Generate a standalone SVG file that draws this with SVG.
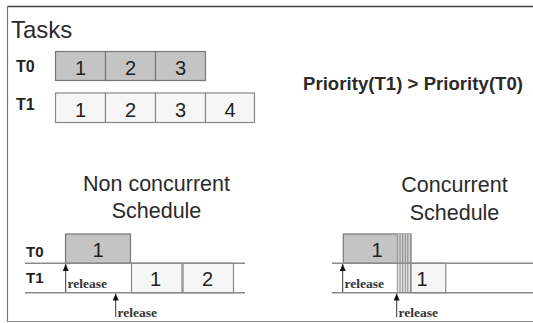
<svg xmlns="http://www.w3.org/2000/svg" width="533" height="323" viewBox="0 0 533 323">
<defs>
<style>
.sans{font-family:"Liberation Sans",Arial,sans-serif;fill:#2a2a2a}
.lbl{font-family:"Liberation Sans",Arial,sans-serif;font-weight:bold;font-size:16px;fill:#222}
.lbl2{font-family:"Liberation Sans",Arial,sans-serif;font-weight:bold;font-size:15px;fill:#222}
.num{font-family:"Liberation Sans",Arial,sans-serif;font-size:20px;fill:#222;text-anchor:middle}
.rel{font-family:"Liberation Serif","Times New Roman",serif;font-weight:bold;font-size:13.5px;fill:#333}
.gray{fill:#c4c4c4;stroke:#777;stroke-width:1.2}
.light{fill:#f6f6f6;stroke:#888;stroke-width:1.2}
.axis{stroke:#8a8a8a;stroke-width:1.5;fill:none}
.arr{stroke:#333;stroke-width:1;fill:none;marker-end:url(#ah)}
.hatch{stroke:#777;stroke-width:0.8}
</style>
<marker id="ah" viewBox="0 0 6 7" refX="3" refY="0" markerWidth="6" markerHeight="7" orient="0" markerUnits="userSpaceOnUse">
<path d="M0,7 L3,0 L6,7 Z" fill="#111"/>
</marker>
</defs>
<rect width="533" height="323" fill="#fff"/>
<g id="frame">
<line x1="7" y1="6.5" x2="533" y2="6.5" stroke="#444" stroke-width="1.5"/>
<line x1="7.5" y1="6" x2="7.5" y2="322" stroke="#777" stroke-width="1.2"/>
<line x1="7" y1="321.5" x2="533" y2="321.5" stroke="#888" stroke-width="1.2"/>
</g>
<g id="tasks-title"><text class="sans" x="11" y="38" font-size="24">Tasks</text></g>
<g id="priority"><text class="sans" x="303" y="90" font-size="18.5" font-weight="bold" textLength="220">Priority(T1) &gt; Priority(T0)</text></g>
<g id="task-T0">
<text class="lbl" x="16" y="72">T0</text>
<rect class="gray" x="55.5" y="51.5" width="50" height="29"/>
<rect class="gray" x="105.5" y="51.5" width="50" height="29"/>
<rect class="gray" x="155.5" y="51.5" width="50" height="29"/>
<text class="num" x="80.5" y="75">1</text>
<text class="num" x="130.5" y="75">2</text>
<text class="num" x="180.5" y="75">3</text>
</g>
<g id="task-T1">
<text class="lbl" x="16" y="110">T1</text>
<rect class="light" x="55.5" y="93" width="50" height="29.5"/>
<rect class="light" x="105.5" y="93" width="50" height="29.5"/>
<rect class="light" x="155.5" y="93" width="50" height="29.5"/>
<rect class="light" x="205.5" y="93" width="49" height="29.5"/>
<text class="num" x="80.5" y="117">1</text>
<text class="num" x="130.5" y="117">2</text>
<text class="num" x="180.5" y="117">3</text>
<text class="num" x="230" y="117">4</text>
</g>
<g id="non-concurrent">
<text class="sans" x="156.5" y="191" font-size="21.5" text-anchor="middle">Non concurrent</text>
<text class="sans" x="156.5" y="218" font-size="21.5" text-anchor="middle">Schedule</text>
<text class="lbl2" x="26" y="257">T0</text>
<text class="lbl2" x="26" y="283">T1</text>
<rect class="gray" x="65.5" y="234" width="65" height="29.3"/>
<text class="num" x="98" y="256.5">1</text>
<rect class="light" x="131.5" y="263.3" width="50.5" height="29.4"/>
<rect class="light" x="183" y="263.3" width="50.5" height="29.4"/>
<text class="num" x="155.5" y="286">1</text>
<text class="num" x="207.5" y="286">2</text>
<line class="axis" x1="25" y1="263.3" x2="245" y2="263.3"/>
<line class="axis" x1="25" y1="292.8" x2="245" y2="292.8" stroke="#777"/>
</g>
<g id="concurrent">
<text class="sans" x="454.5" y="192" font-size="21.5" text-anchor="middle">Concurrent</text>
<text class="sans" x="454.5" y="220" font-size="21.5" text-anchor="middle">Schedule</text>
<rect class="gray" x="343.3" y="234" width="67.7" height="29.3"/>
<rect x="397" y="234" width="14" height="29.3" fill="#d0d0d0"/>
<rect x="397" y="263.3" width="14" height="29.4" fill="#e6e6e6"/>
<rect class="light" x="411" y="263.3" width="34.7" height="29.4"/>
<text class="num" x="377" y="256.5">1</text>
<text class="num" x="422" y="286">1</text>
<g class="hatch">
<line x1="397.3" y1="234" x2="397.3" y2="293"/>
<line x1="400" y1="234" x2="400" y2="293"/>
<line x1="402.7" y1="234" x2="402.7" y2="293"/>
<line x1="405.3" y1="234" x2="405.3" y2="293"/>
<line x1="407.8" y1="234" x2="407.8" y2="293"/>
<line x1="410.7" y1="234" x2="410.7" y2="293"/>
</g>
<line class="axis" x1="332" y1="263.3" x2="533" y2="263.3"/>
<line class="axis" x1="332" y1="292.8" x2="533" y2="292.8" stroke="#777"/>
</g>
<g id="connectors">
<line class="arr" x1="65.7" y1="292" x2="65.7" y2="264"/>
<line class="arr" x1="115.7" y1="317" x2="115.7" y2="293.5"/>
<line class="arr" x1="342.7" y1="292" x2="342.7" y2="264"/>
<line class="arr" x1="396.7" y1="317" x2="396.7" y2="293.5"/>
</g>
<g id="release-labels">
<text class="rel" x="67.5" y="288">release</text>
<text class="rel" x="117.5" y="317">release</text>
<text class="rel" x="344.5" y="288">release</text>
<text class="rel" x="398.5" y="317">release</text>
</g>
</svg>
